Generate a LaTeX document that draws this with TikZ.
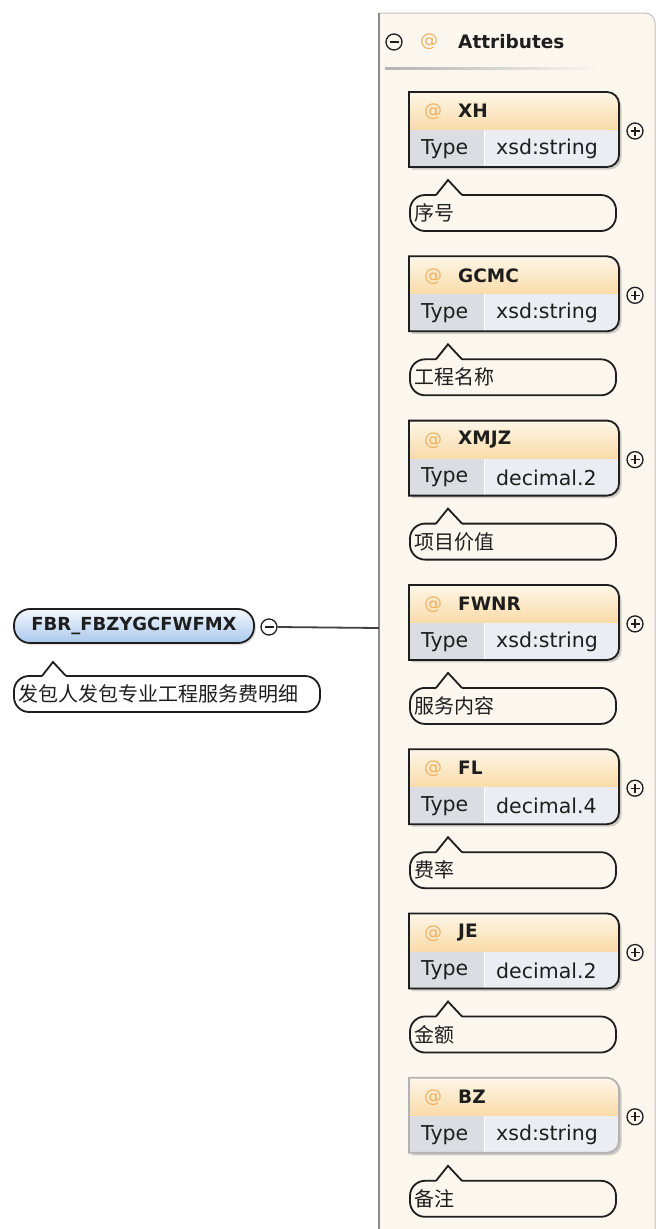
\documentclass[tikz,border=0pt]{standalone}
\usepackage{fontspec}
\setmainfont{DejaVu Sans}
\newfontfamily\cjk{Noto Sans CJK SC}
\usetikzlibrary{shadows}
\definecolor{panelbg}{HTML}{FBF6EE}
\definecolor{panelline}{HTML}{C4C0BA}
\definecolor{hdtop}{HTML}{FEF6E8}
\definecolor{hdbot}{HTML}{F9DBA8}
\definecolor{typebg}{HTML}{DCDDE2}
\definecolor{valbg}{HTML}{ECEDF2}
\definecolor{atcol}{HTML}{F0B163}
\definecolor{rtop}{HTML}{F4F8FE}
\definecolor{rbot}{HTML}{A9C7EC}
\definecolor{ink}{HTML}{1E1E1E}
\tikzset{
  rootbox/.style={draw=ink, line width=1.8pt, rounded corners=16pt, minimum width=240pt, minimum height=34pt,
    top color=rtop, bottom color=rbot, inner sep=0pt, text=ink,
    font=\bfseries\fontsize{18}{20}\selectfont,
    drop shadow={shadow xshift=2pt, shadow yshift=-2pt, opacity=0.25}},
  togglecirc/.style={draw=ink, circle, line width=1.3pt, minimum size=16pt, inner sep=0pt},
  nametxt/.style={anchor=west, inner sep=0pt, text=ink, font=\bfseries\fontsize{18.5}{20}\selectfont},
  attxt/.style={inner sep=0pt, text=atcol, font=\fontsize{18}{20}\selectfont},
  rowtxt/.style={anchor=west, inner sep=0pt, text=ink, font=\fontsize{20.5}{22}\selectfont},
  cmtxt/.style={anchor=west, inner sep=0pt, text=ink, font=\cjk\fontsize{20}{22}\selectfont},
  cmline/.style={draw=ink, line width=1.8pt},
}
\begin{document}
\begin{tikzpicture}[x=1pt,y=1pt]
\useasboundingbox (0,0) rectangle (657,-1229);
\fill[white] (0,0) rectangle (657,-1229);
% panel
\fill[panelbg] (379,-13) -- (645,-13) arc[start angle=90,end angle=0,radius=10] -- (655,-1229) -- (379,-1229) -- cycle;
\draw[panelline, line width=1pt] (379,-13) -- (645,-13) arc[start angle=90,end angle=0,radius=10] -- (655,-1229);
\draw[black!45, line width=2pt] (379,-13) -- (379,-1229);
% header
\node[togglecirc] (amin) at (394,-42) {};
\draw[ink, line width=1.3pt] ([xshift=-4.5pt]amin.center) -- ([xshift=4.5pt]amin.center);
\node[attxt] (aat) at (429,-42) {@};
\node[nametxt] (attr) at (458,-42) {Attributes};
\shade[left color=black!30, right color=panelbg] (385,-67) rectangle (600,-69.5);
% root
\node[rootbox] (root) at (134,-626) {FBR\_FBZYGCFWFMX};
\node[togglecirc] (rmin) at (269,-627) {};
\draw[ink, line width=1.3pt] ([xshift=-4.5pt]rmin.center) -- ([xshift=4.5pt]rmin.center);
\coordinate (pl) at (379,-628);
\draw[ink!85, line width=1.8pt] (rmin.east) -- (pl);
% root comment
\draw[cmline, rounded corners=15pt] (66,-676) -- (320,-676) -- (320,-712) -- (14,-712) -- (14,-676) -- (42,-676);
\draw[cmline] (42,-676) -- (53,-662) -- (66,-676);
\node[cmtxt] (rootcm) at (18.5,-694) {发包人发包专业工程服务费明细};
% attributes
\foreach \nm/\ty/\cm [count=\i from 0] in {XH/xsd:string/序号, GCMC/xsd:string/工程名称, XMJZ/decimal.2/项目价值, FWNR/xsd:string/服务内容, FL/decimal.4/费率, JE/decimal.2/金额, BZ/xsd:string/备注} {
  \pgfmathsetmacro\Y{-(92+164.3*\i)}
  \ifnum\i=6 \def\bc{black!30}\else\def\bc{ink}\fi
  \begin{scope}[shift={(0,\Y)}]
    \begin{scope}[shift={(2.5,-2.5)}]
      \fill[black, opacity=0.18] (409,0) -- (607,0) arc[start angle=90,end angle=0,radius=12] -- (619,-63) arc[start angle=0,end angle=-90,radius=12] -- (409,-75) -- cycle;
    \end{scope}
    \begin{scope}
      \clip (409,0) -- (607,0) arc[start angle=90,end angle=0,radius=12] -- (619,-63) arc[start angle=0,end angle=-90,radius=12] -- (409,-75) -- cycle;
      \shade[top color=hdtop, bottom color=hdbot] (409,0) rectangle (619,-38);
      \fill[typebg] (409,-38) rectangle (484,-75);
      \fill[valbg] (484,-38) rectangle (619,-75);
      \draw[white, line width=0.8pt] (484,-38) -- (484,-75);
    \end{scope}
    \draw[\bc, line width=1.8pt] (409,0) -- (607,0) arc[start angle=90,end angle=0,radius=12] -- (619,-63) arc[start angle=0,end angle=-90,radius=12] -- (409,-75) -- cycle;
    \node[attxt] (a\i) at (433,-20) {@};
    \node[nametxt] (n\i) at (458,-19) {\nm};
    \node[rowtxt] (t\i) at (421,-57) {Type};
    \node[rowtxt] (v\i) at (496,-57) {\ty};
    \node[togglecirc] (p\i) at (635,-39) {};
    \draw[ink, line width=1.3pt] ([xshift=-4.5pt]p\i.center) -- ([xshift=4.5pt]p\i.center);
    \draw[ink, line width=1.3pt] ([yshift=-4.5pt]p\i.center) -- ([yshift=4.5pt]p\i.center);
    \draw[cmline, rounded corners=15pt] (462,-103) -- (616,-103) -- (616,-139) -- (410,-139) -- (410,-103) -- (436,-103);
    \draw[cmline] (436,-103) -- (448,-88) -- (462,-103);
    \node[cmtxt] (c\i) at (414.5,-121) {\cm};
  \end{scope}
}
\end{tikzpicture}
\end{document}
